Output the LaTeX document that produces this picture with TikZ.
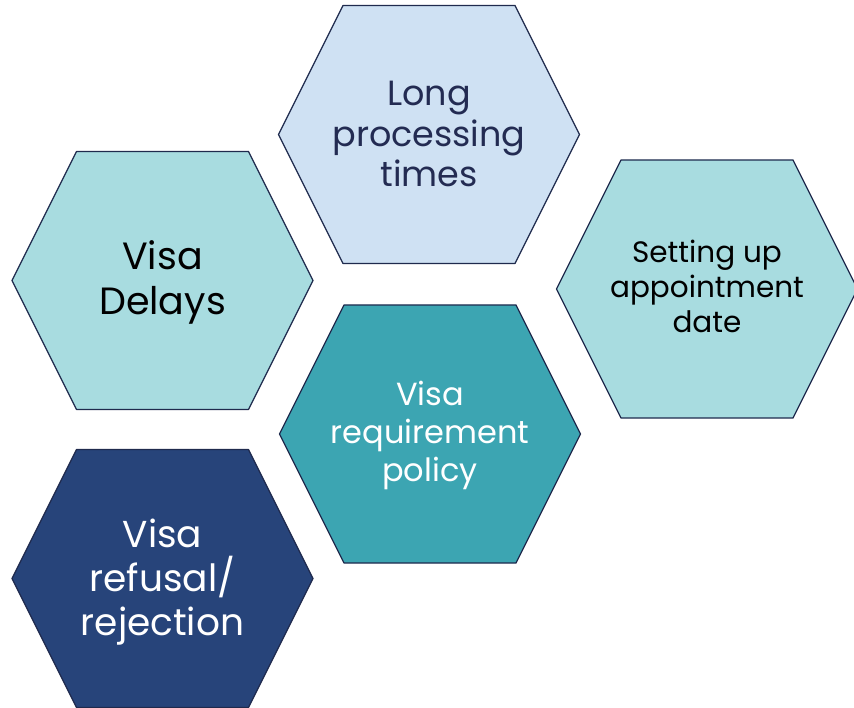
\documentclass[tikz,border=0pt]{standalone}
\usepackage{fontspec}
\setmainfont{Poppins}
\definecolor{hexsky}{HTML}{CFE1F3}
\definecolor{hexaqua}{HTML}{A8DCE0}
\definecolor{hexteal}{HTML}{3CA5B2}
\definecolor{hexnavy}{HTML}{27447A}
\definecolor{hexline}{HTML}{1F2A4D}
\definecolor{inkdark}{HTML}{232B52}
\tikzset{
  hexcell/.style={draw=hexline, line width=1.3pt, line join=round},
  hexlabel/.style={align=center, inner sep=0pt, anchor=base},
}
\begin{document}
\begin{tikzpicture}[x=1pt, y=1pt]
	\def\hw{150.5}\def\ht{86}\def\hh{129}
	\useasboundingbox (0,0) rectangle (854,-708);
	\clip (0,0) rectangle (854,-708);
	% honeycomb cells
	\foreach \cx/\cy/\fc in {429/-134.5/hexsky, 162.5/-280.5/hexaqua, 707/-289/hexaqua, 430/-434/hexteal, 162.5/-578.5/hexnavy}
		\filldraw[hexcell, fill=\fc] (\cx-\hw,\cy)--(\cx-\ht,\cy+\hh)--(\cx+\ht,\cy+\hh)--(\cx+\hw,\cy)--(\cx+\ht,\cy-\hh)--(\cx-\ht,\cy-\hh)--cycle;
	% labels (placed at the baseline of the last line)
	\node[hexlabel, text=inkdark, font=\fontsize{35}{40.5}\selectfont] (longtimes) at (429,-187) {Long\\processing\\times};
	\node[hexlabel, text=black, font=\fontsize{38}{45}\selectfont] (delays) at (162.5,-315) {Visa\\Delays};
	\node[hexlabel, text=black, font=\fontsize{29.5}{35}\selectfont] (appointment) at (707,-333) {Setting up\\appointment\\date};
	\node[hexlabel, text=white, font=\fontsize{32}{38}\selectfont] (policy) at (430,-481.5) {Visa\\requirement\\policy};
	\node[hexlabel, text=white, font=\fontsize{37.5}{44}\selectfont] (refusal) at (162.5,-635) {Visa\\refusal/\\rejection};
\end{tikzpicture}
\end{document}
